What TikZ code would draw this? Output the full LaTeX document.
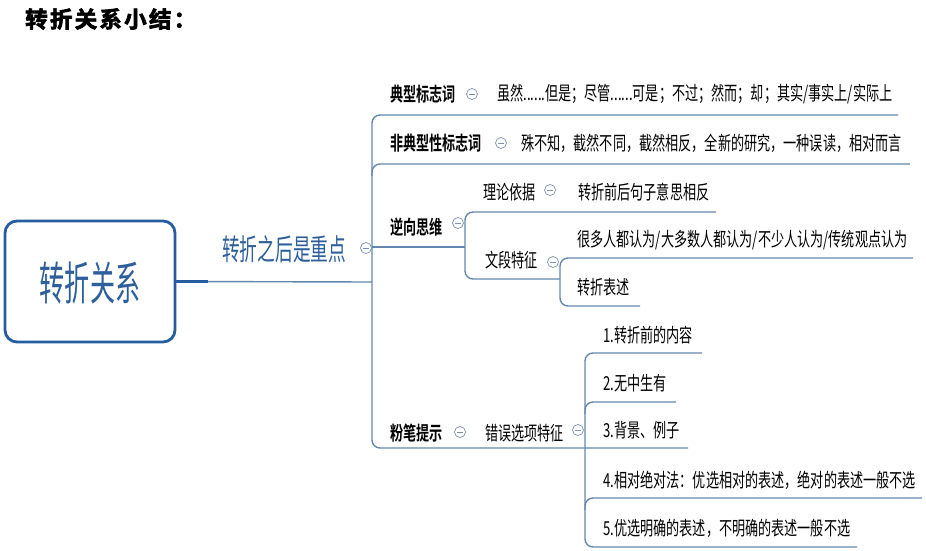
\documentclass[tikz,border=0pt]{standalone}
\usepackage{fontspec}
\setmainfont{Noto Sans CJK SC}
\newfontfamily\bodyf{Noto Sans CJK SC}[FakeStretch=0.68]
\newfontfamily\boldf{Noto Sans CJK SC Bold}[FakeStretch=0.68]
\newfontfamily\midf{Noto Sans CJK SC}[FakeStretch=0.6]
\newfontfamily\rootf{Noto Sans CJK SC}[FakeStretch=0.545]
\newfontfamily\titlef{Noto Sans CJK SC Bold}[LetterSpace=10,FakeBold=3]
\definecolor{linec}{RGB}{100,135,175}
\definecolor{circc}{RGB}{125,145,170}
\definecolor{rootc}{RGB}{38,92,160}
\definecolor{roottext}{RGB}{45,95,155}
\begin{document}
\begin{tikzpicture}[x=1pt,y=-1pt,
  br/.style={draw=linec, line width=1.4pt},
  brr/.style={br, rounded corners=8pt},
  cc/.style={circle, draw=circc, line width=0.7pt, minimum size=11pt, inner sep=0pt, fill=white,
    path picture={\draw[circc,line width=0.7pt] ([xshift=-2.8pt]path picture bounding box.center) -- ([xshift=2.8pt]path picture bounding box.center);}},
  tx/.style={anchor=west, inner sep=0pt, font=\bodyf\fontsize{19.3}{22}\selectfont},
  bx/.style={anchor=west, inner sep=0pt, font=\boldf\fontsize{19.3}{22}\selectfont}]
\useasboundingbox (0,0) rectangle (926,551);

% title
\node[anchor=west, inner sep=0pt, font=\titlef\fontsize{22.5}{25}\selectfont] (title) at (25,19) {转折关系小结：};

% root
\node[draw=rootc, line width=2.8pt, rounded corners=12pt, minimum width=170pt, minimum height=121pt, inner sep=0pt] (root) at (90,281.5) {};
\node[font=\rootf\fontsize{46}{50}\selectfont, text=roottext, inner sep=0pt] (roottxt) at (90,283) {转折关系};
\node[anchor=west, inner sep=0pt, font=\midf\fontsize{29.5}{32}\selectfont, text=roottext] (mid) at (222,249) {转折之后是重点};

% coordinates
\coordinate (hub) at (372,282);

% level-1 labels
\node[bx] (n1) at (390,94) {典型标志词};
\node[tx] (n1a) at (497,94) {虽然......但是；尽管......可是；不过；然而；却；其实/事实上/实际上};
\node[bx] (n2) at (390,143) {非典型性标志词};
\node[tx] (n2a) at (521,143) {殊不知，截然不同，截然相反，全新的研究，一种误读，相对而言};
\node[bx] (n3) at (390,227) {逆向思维};
\node[tx] (n31) at (483,192) {理论依据};
\node[tx] (n31a) at (578,192) {转折前后句子意思相反};
\node[tx] (n32) at (485,260) {文段特征};
\node[tx] (n32a) at (577,240) {很多人都认为/大多数人都认为/不少人认为/传统观点认为};
\node[tx] (n32b) at (577,287) {转折表述};
\node[bx] (n4) at (390,433) {粉笔提示};
\node[tx] (n41) at (485,433) {错误选项特征};
\node[tx] (e1) at (603,335) {1.转折前的内容};
\node[tx] (e2) at (603,383) {2.无中生有};
\node[tx] (e3) at (603,430) {3.背景、例子};
\node[tx] (e4) at (603,480) {4.相对绝对法：优选相对的表述，绝对的表述一般不选};
\node[tx] (e5) at (603,528) {5.优选明确的表述，不明确的表述一般不选};

% connectors
\draw[br] (root.east) -- (hub);
\draw[draw=rootc, line width=2.6pt] (root.east) -- ++(32,0);
\draw[brr] (898,115) -- (372,115) -- (372,448) -- (688,448);
\draw[brr] (910,164) -- (372,164) -- (372,176);
\draw[br] (372,247) -- (465,247);
\draw[brr] (716,212) -- (465,212) -- (465,279) -- (560,279);
\draw[brr] (913,258) -- (560,258) -- (560,306) -- (640,306);
\draw[brr] (702,353) -- (585,353) -- (585,547) -- (857,547);
\draw[brr] (676,402) -- (585,402) -- (585,414);
\draw[brr] (922,498) -- (585,498) -- (585,510);

% collapse circles
\node[cc] (c0) at (366,248) {};
\node[cc] (c1) at (472,94) {};
\node[cc] (c2) at (501,143) {};
\node[cc] (c3) at (458,223) {};
\node[cc] (c31) at (550,190) {};
\node[cc] (c32) at (553,262) {};
\node[cc] (c4) at (460,432) {};
\node[cc] (c41) at (578,430) {};
\end{tikzpicture}
\end{document}
